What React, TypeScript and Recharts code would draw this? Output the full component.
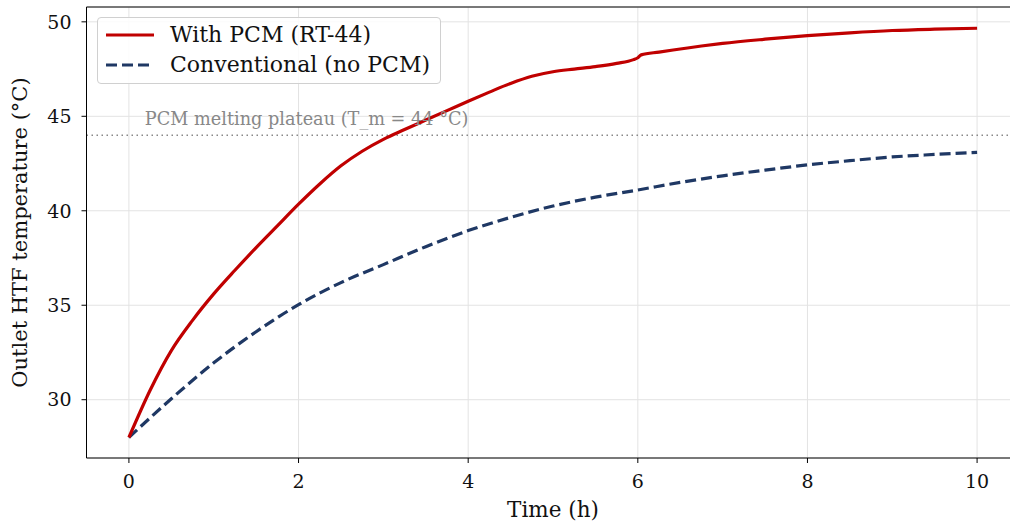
import {
  LineChart, Line, XAxis, YAxis, CartesianGrid,
  ReferenceLine, ReferenceDot,
} from 'recharts';

// ── Data ──────────────────────────────────────────────────────────────────────

const pcmTime = [0, 0.25, 0.5, 0.75, 1, 1.25, 1.5, 1.75, 2, 2.25, 2.5, 2.75, 3, 3.25, 3.5, 3.75, 4, 4.25, 4.5, 4.75, 5, 5.25, 5.5, 5.75, 5.95, 6, 6.04, 6.25, 6.5, 6.75, 7, 7.5, 8, 8.5, 9, 9.5, 10];
const pcmTemp = [28.0, 30.5, 32.6, 34.2, 35.6, 36.85, 38.05, 39.2, 40.35, 41.42, 42.38, 43.15, 43.78, 44.3, 44.8, 45.3, 45.8, 46.28, 46.74, 47.12, 47.36, 47.5, 47.63, 47.8, 48.0, 48.1, 48.25, 48.4, 48.56, 48.72, 48.86, 49.08, 49.27, 49.42, 49.54, 49.61, 49.66];

const convTime = [0, 0.5, 1, 1.5, 2, 2.5, 3, 3.5, 4, 4.5, 5, 5.5, 6, 6.5, 7, 7.5, 8, 8.5, 9, 9.5, 10];
const convTemp = [28.0, 30.05, 31.95, 33.6, 35.03, 36.2, 37.15, 38.1, 38.95, 39.65, 40.25, 40.72, 41.1, 41.5, 41.85, 42.15, 42.43, 42.65, 42.85, 42.98, 43.09];

const xTicks = [0, 2, 4, 6, 8, 10];
const yTicks = [30, 35, 40, 45, 50];
const meltTemp = 44;

const seriesNames = ['With PCM (RT-44)', 'Conventional (no PCM)'];

const X_DOMAIN: [number, number] = [-0.5, 10.5];
const Y_DOMAIN: [number, number] = [26.915, 50.785];

const pcmData = pcmTime.map((t, i) => ({ t, v: pcmTemp[i] }));
const convData = convTime.map((t, i) => ({ t, v: convTemp[i] }));

const RED = '#c00000';
const NAVY = '#1f3864';
const FONT = '"DejaVu Serif", serif';

// ── Legend ────────────────────────────────────────────────────────────────────

function LegendBox() {
  const row = (color: string, dash: string | undefined, text: string) => (
    <div style={{ display: 'flex', alignItems: 'center', height: 30 }}>
      <svg width={48} height={6} style={{ marginRight: 16 }}>
        <line x1={0} y1={3} x2={48} y2={3} stroke={color} strokeWidth={3.2} strokeDasharray={dash} />
      </svg>
      <span>{text}</span>
    </div>
  );
  return (
    <div style={{
      position: 'absolute', left: 97, top: 17,
      fontFamily: FONT, fontSize: 22, color: '#111',
      border: '1px solid #d0d0d0', borderRadius: 4,
      background: 'rgba(255,255,255,0.85)',
      padding: '2px 10px 3px 8px', lineHeight: 1,
    }}>
      {row(RED, undefined, seriesNames[0])}
      {row(NAVY, '11 5', seriesNames[1])}
    </div>
  );
}

// ── Chart ─────────────────────────────────────────────────────────────────────

export default function App() {
  return (
    <div style={{ position: 'absolute', left: 0, top: 0, width: 1010, height: 523, overflow: 'hidden', background: '#fff' }}>
      <LineChart
        width={1030}
        height={523}
        margin={{ top: 7, right: 10.5, left: 26.5, bottom: 35 }}
      >
        <CartesianGrid stroke="#e3e3e3" strokeWidth={1} />
        <XAxis
          type="number"
          dataKey="t"
          domain={X_DOMAIN}
          ticks={xTicks}
          allowDataOverflow
          height={30}
          stroke="#000"
          tickSize={5}
          tickMargin={12}
          tick={{ fontSize: 19, fill: '#111', fontFamily: FONT }}
          label={({ viewBox }: any) => (
            <text
              x={viewBox.x + viewBox.width / 2}
              y={517}
              textAnchor="middle"
              fontSize={21.5}
              fontFamily={FONT}
              fill="#111"
            >
              Time (h)
            </text>
          )}
        />
        <YAxis
          type="number"
          domain={Y_DOMAIN}
          ticks={yTicks}
          allowDataOverflow
          width={60}
          stroke="#000"
          tickSize={5}
          tickMargin={10}
          tick={{ fontSize: 19, fill: '#111', fontFamily: FONT }}
          label={({ viewBox }: any) => {
            const cy = viewBox.y + viewBox.height / 2;
            return (
              <text
                x={20}
                y={cy}
                transform={`rotate(-90 20 ${cy})`}
                textAnchor="middle"
                dominantBaseline="central"
                fontSize={21}
                fontFamily={FONT}
                fill="#111"
              >
                Outlet HTF temperature (°C)
              </text>
            );
          }}
        />
        {/* top spine */}
        <ReferenceLine y={Y_DOMAIN[1]} stroke="#000" strokeWidth={1} ifOverflow="visible" />
        <ReferenceLine y={meltTemp} stroke="#888" strokeWidth={1.5} strokeDasharray="1.5 3.5" />
        <ReferenceDot
          x={0.2}
          y={meltTemp}
          r={1}
          fill="none"
          stroke="none"
          label={({ viewBox }: any) => (
            <text x={viewBox.x} y={viewBox.y - 9} fontSize={17.7} fontFamily={FONT} fill="#888">
              PCM melting plateau (T_m = 44 °C)
            </text>
          )}
        />
        <Line
          data={convData}
          dataKey="v"
          type="monotone"
          stroke={NAVY}
          strokeWidth={3.2}
          strokeDasharray="11 5"
          dot={false}
          isAnimationActive={false}
          name={seriesNames[1]}
        />
        <Line
          data={pcmData}
          dataKey="v"
          type="monotone"
          stroke={RED}
          strokeWidth={3.2}
          dot={false}
          isAnimationActive={false}
          name={seriesNames[0]}
        />
      </LineChart>
      <LegendBox />
    </div>
  );
}
